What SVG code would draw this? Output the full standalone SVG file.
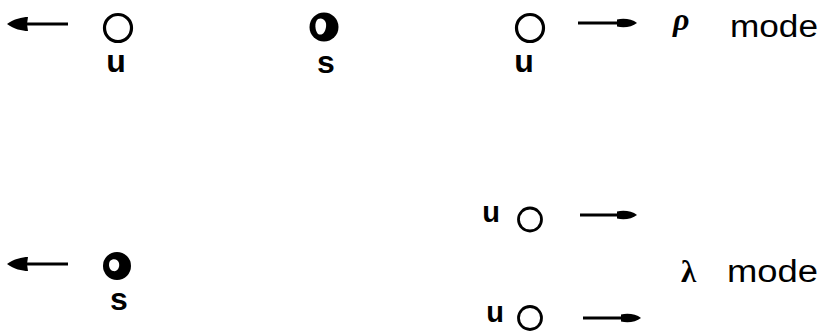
<svg xmlns="http://www.w3.org/2000/svg" width="825" height="335" viewBox="0 0 825 335">
<defs>
<style>
.ring{fill:none;stroke:#000;stroke-width:3.2}
.ringB{fill:none;stroke:#000;stroke-width:2.8}
.blob{fill:#000}
.hole{fill:#fff}
.lbl{font-family:"Liberation Sans",Arial,sans-serif;font-weight:bold;fill:#000;text-anchor:middle}
.mode{font-family:"Liberation Sans",Arial,sans-serif;fill:#000;font-size:31px}
.greek{font-family:"Liberation Serif","DejaVu Serif",serif;font-weight:bold;fill:#000}
.shaft{stroke:#000;stroke-width:3.2;fill:none}
.head{fill:#000}
</style>
</defs>
<rect width="825" height="335" fill="#fff"/>
<g id="rho-u-left">
<circle class="ring" cx="118" cy="28" r="13.5"/>
<text class="lbl" x="116" y="72" font-size="32">u</text>
</g>
<g id="rho-s">
<circle class="blob" cx="324" cy="27" r="14.5"/>
<path class="hole" d="M318,19 C323,17 327,21 326,27 C325,33 322,36 318,34 C315,31 314,22 318,19 Z"/>
<text class="lbl" x="326" y="73" font-size="32">s</text>
</g>
<g id="rho-u-right">
<circle class="ring" cx="530" cy="28" r="13.5"/>
<text class="lbl" x="524" y="72" font-size="32">u</text>
</g>
<g id="rho-label">
<text class="greek" x="673" y="30" font-size="32" font-style="italic">ρ</text>
<text class="mode" x="730" y="37" textLength="88" lengthAdjust="spacingAndGlyphs">mode</text>
</g>
<g id="lambda-s">
<circle class="blob" cx="117" cy="266" r="14"/>
<path class="hole" d="M110,261 C113,258 118,259 119,263 C120,268 117,272 113,271 C109,270 108,264 110,261 Z"/>
<text class="lbl" x="119" y="310" font-size="32">s</text>
</g>
<g id="lambda-u-top">
<text class="lbl" x="491" y="222" font-size="29">u</text>
<circle class="ringB" cx="530" cy="219.5" r="11.5"/>
</g>
<g id="lambda-u-bottom">
<text class="lbl" x="495" y="322" font-size="29">u</text>
<circle class="ringB" cx="530" cy="318" r="11.5"/>
</g>
<g id="lambda-label">
<text class="greek" x="681" y="282" font-size="31">λ</text>
<text class="mode" x="727" y="282" textLength="91" lengthAdjust="spacingAndGlyphs">mode</text>
</g>
<g id="connectors">
<line class="shaft" x1="24" y1="24" x2="68" y2="24"/>
<path class="head" d="M7,24 C14,19 22,17 28,17 L27,24 L28,31 C22,31 14,29 7,24 Z"/>
<line class="shaft" x1="578" y1="23" x2="624" y2="23"/>
<path class="head" d="M637,23 C632,19 624,18 617,19.5 L617,26.5 C624,28 632,27 637,23 Z"/>
<line class="shaft" x1="24" y1="264" x2="68" y2="264"/>
<path class="head" d="M7,264 C14,259 22,257 28,257 L27,264 L28,271 C22,271 14,269 7,264 Z"/>
<line class="shaft" x1="580" y1="215" x2="624" y2="215"/>
<path class="head" d="M637,215 C632,211 624,210 617,211.5 L617,218.5 C624,220 632,219 637,215 Z"/>
<line class="shaft" x1="583" y1="318" x2="627" y2="318"/>
<path class="head" d="M641,318 C636,314 628,313 621,314.5 L621,321.5 C628,323 636,322 641,318 Z"/>
</g>
</svg>
